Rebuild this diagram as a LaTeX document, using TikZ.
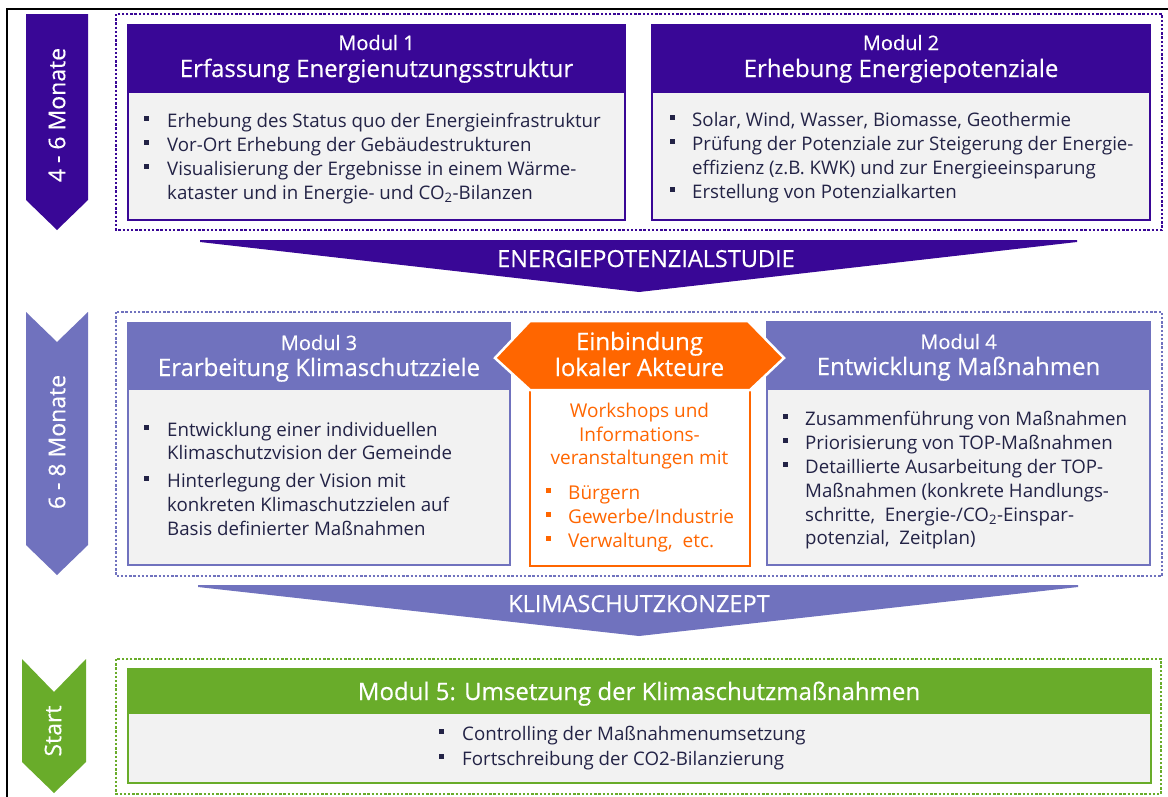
\documentclass[tikz,border=0pt]{standalone}
\usepackage{fontspec}
\setmainfont{Open Sans}
\newfontfamily\semib{Open Sans}[FakeBold=0.45]
\definecolor{dp}{RGB}{57,7,150}
\definecolor{lp}{RGB}{112,114,190}
\definecolor{og}{RGB}{255,102,0}
\definecolor{gr}{RGB}{105,172,42}
\definecolor{bodyfill}{RGB}{242,242,242}
\definecolor{txt}{RGB}{35,35,70}
\tikzset{
  dotframe/.style={line width=2.4pt, dash pattern=on 2.4pt off 1.8pt},
  modlbl/.style={font=\semib\fontsize{20}{22}\selectfont, text=white, anchor=base, inner sep=0pt},
  modttl/.style={font=\semib\fontsize{24}{28}\selectfont, text=white, anchor=base, inner sep=0pt},
  bt/.style={font=\fontsize{18.7}{23}\selectfont, text=txt, anchor=base west, inner sep=0pt},
  ot/.style={font=\fontsize{19}{23}\selectfont, text=og, anchor=base, inner sep=0pt},
  obt/.style={font=\fontsize{19}{23}\selectfont, text=og, anchor=base west, inner sep=0pt},
  sidetxt/.style={font=\semib\fontsize{23}{28}\selectfont, text=white, rotate=90, inner sep=0pt},
  bandtxt/.style={font=\semib\fontsize{23.5}{28}\selectfont, text=white, anchor=base west, inner sep=0pt},
}
\newcommand\mybul[3]{\fill[#1] (#2-2.5,#3-11) rectangle ++(5,5);}
\begin{document}
\begin{tikzpicture}[x=1pt,y=-1pt]
\useasboundingbox (0,0) rectangle (1168,796);
\fill[white] (0,0) rectangle (1168,796);
% outer frame
\draw[line width=2.5pt] (7,810) -- (7,9) -- (1180,9);

% ---------------- side arrows
\fill[dp] (26,14) -- (88,14) -- (88,200) -- (57,230) -- (26,200) -- cycle;
\node[sidetxt] (s1) at (57,115) {4 - 6 Monate};
\fill[lp] (26,312) -- (57,342) -- (88,312) -- (88,545) -- (57,575) -- (26,545) -- cycle;
\node[sidetxt] (s2) at (57,442) {6 - 8 Monate};
\fill[gr] (22,659) -- (54,692) -- (86,659) -- (86,762) -- (54,793) -- (22,762) -- cycle;
\node[sidetxt] (s3) at (53,731) {Start};

% ---------------- row 1
\draw[dp, dotframe] (116,14) rectangle (1162,230);
% module 1
\fill[bodyfill] (128,93) rectangle (625,220);
\fill[dp] (128,25) rectangle (625,93);
\draw[dp, line width=1.8pt] (128,25) rectangle (625,220);
\node[modlbl] (m1a) at (376.5,50) {Modul 1};
\node[modttl] (m1b) at (376.5,77) {Erfassung Energienutzungsstruktur};
\mybul{txt}{146}{127}\node[bt] (m1l1) at (167,127) {Erhebung des Status quo der Energieinfrastruktur};
\mybul{txt}{146}{151}\node[bt] (m1l2) at (167,151) {Vor-Ort Erhebung der Gebäudestrukturen};
\mybul{txt}{146}{175}\node[bt] (m1l3) at (167,175) {Visualisierung der Ergebnisse in einem Wärme-};
\node[bt] (m1l4) at (167,199) {kataster und in Energie- und CO\textsubscript{2}-Bilanzen};
% module 2
\fill[bodyfill] (652,93) rectangle (1150,220);
\fill[dp] (652,25) rectangle (1150,93);
\draw[dp, line width=1.8pt] (652,25) rectangle (1150,220);
\node[modlbl] (m2a) at (901,50) {Modul 2};
\node[modttl] (m2b) at (901,77) {Erhebung Energiepotenziale};
\mybul{txt}{672.5}{126}\node[bt] (m2l1) at (692,126) {Solar, Wind, Wasser, Biomasse, Geothermie};
\mybul{txt}{672.5}{150}\node[bt] (m2l2) at (692,150) {Prüfung der Potenziale zur Steigerung der Energie-};
\node[bt] (m2l3) at (692,174) {effizienz (z.B. KWK) und zur Energieeinsparung};
\mybul{txt}{672.5}{198}\node[bt] (m2l4) at (692,198) {Erstellung von Potenzialkarten};

% band 1
\fill[dp] (200,240) -- (1077,240) -- (1077,242) -- (639,292) -- (200,242) -- cycle;
\node[bandtxt] (band1) at (497,267) {ENERGIEPOTENZIALSTUDIE};

% ---------------- row 2
\draw[lp, dotframe] (116,312) rectangle (1162,576);
% module 3
\fill[bodyfill] (128,390) rectangle (510,565);
\fill[lp] (128,323) rectangle (510,390);
\draw[lp, line width=1.8pt] (128,323) rectangle (510,565);
\node[modlbl] (m3a) at (319,350) {Modul 3};
\node[modttl] (m3b) at (319,376) {Erarbeitung Klimaschutzziele};
\mybul{txt}{146}{436}\node[bt] (m3l1) at (167,436) {Entwicklung einer individuellen};
\node[bt] (m3l2) at (167,459) {Klimaschutzvision der Gemeinde};
\mybul{txt}{146}{487}\node[bt] (m3l3) at (167,487) {Hinterlegung der Vision mit};
\node[bt] (m3l4) at (167,511) {konkreten Klimaschutzzielen auf};
\node[bt] (m3l5) at (167,535) {Basis definierter Maßnahmen};
% module 4
\fill[bodyfill] (767,390) rectangle (1150,565);
\fill[lp] (767,322) rectangle (1150,390);
\draw[lp, line width=1.8pt] (767,322) rectangle (1150,565);
\node[modlbl] (m4a) at (958.5,349) {Modul 4};
\node[modttl] (m4b) at (958.5,375) {Entwicklung Maßnahmen};
\mybul{txt}{785}{425}\node[bt] (m4l1) at (805,425) {Zusammenführung von Maßnahmen};
\mybul{txt}{785}{449}\node[bt] (m4l2) at (805,449) {Priorisierung von TOP-Maßnahmen};
\mybul{txt}{785}{473}\node[bt] (m4l3) at (805,473) {Detaillierte Ausarbeitung der TOP-};
\node[bt] (m4l4) at (805,497) {Maßnahmen (konkrete Handlungs-};
\node[bt] (m4l5) at (805,521) {schritte, \ Energie-/CO\textsubscript{2}-Einspar-};
\node[bt] (m4l6) at (805,544) {potenzial, \ Zeitplan)};
% orange
\draw[og, line width=2pt, fill=white] (530,390) rectangle (750,566);
\filldraw[fill=og, draw=white, line width=2.5pt] (495,358) -- (530,321) -- (748,321) -- (784,358) -- (750,390) -- (530,390) -- cycle;
\node[modttl] (o1) at (639.5,350) {Einbindung};
\node[modttl] (o2) at (639.5,376) {lokaler Akteure};
\node[ot] (o3) at (639.5,417) {Workshops und};
\node[ot] (o4) at (639.5,441) {Informations-};
\node[ot] (o5) at (639.5,464) {veranstaltungen mit};
\mybul{og}{548.5}{499}\node[obt] (o6) at (568,499) {Bürgern};
\mybul{og}{548.5}{523}\node[obt] (o7) at (568,523) {Gewerbe/Industrie};
\mybul{og}{548.5}{547}\node[obt] (o8) at (568,547) {Verwaltung, \ etc.};

% band 2
\fill[lp] (198,585) -- (1078,585) -- (1078,587) -- (639,636) -- (198,587) -- cycle;
\node[bandtxt] (band2) at (508,612) {KLIMASCHUTZKONZEPT};

% ---------------- row 3
\draw[gr, dotframe] (116,659) rectangle (1161,794);
\fill[bodyfill] (128,714) rectangle (1151,783);
\fill[gr] (128,669) rectangle (1151,714);
\draw[gr, line width=1.8pt] (128,669) rectangle (1151,783);
\node[modttl] (m5a) at (639,700) {Modul 5: Umsetzung der Klimaschutzmaßnahmen};
\mybul{txt}{441}{740}\node[bt] (m5l1) at (462,740) {Controlling der Maßnahmenumsetzung};
\mybul{txt}{441}{765}\node[bt] (m5l2) at (462,765) {Fortschreibung der CO2-Bilanzierung};
\end{tikzpicture}
\end{document}
